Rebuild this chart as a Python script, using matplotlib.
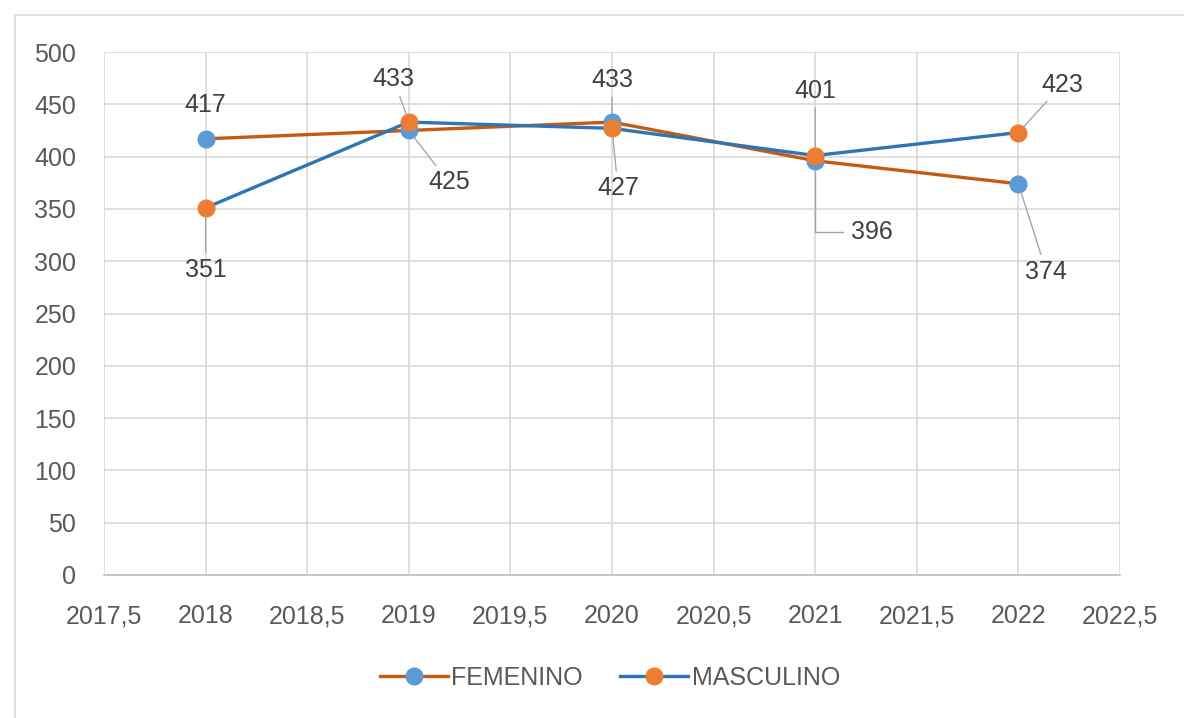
import matplotlib.pyplot as plt
from matplotlib.patches import Rectangle
from matplotlib.ticker import FuncFormatter, MultipleLocator

plt.rcParams['font.family'] = ['Liberation Sans', 'DejaVu Sans']

years = [2018, 2019, 2020, 2021, 2022]
femenino = [417, 425, 433, 396, 374]
masculino = [351, 433, 427, 401, 423]

# label offsets in pixels (dx, dy) and whether a leader line is drawn
fem_offsets = [(0, 34, False), (40, -52, True), (0, 42, True), (57, -71, 'elbow'), (28, -88, True)]
mas_offsets = [(0, -62, True), (-15, 43, True), (6, -60, True), (0, 65, True), (44, 48, True)]

text_color = '#595959'
grid_color = '#D9D9D9'

fig = plt.figure(figsize=(11.84, 7.18), dpi=100)
ax = fig.add_axes([104 / 1184, 1 - 575 / 718, (1120 - 104) / 1184, (575 - 52) / 718])

ax.plot(years, femenino, color='#C55A11', lw=2.4, marker='o', markersize=12,
        markerfacecolor='#5B9BD5', markeredgecolor='#5B9BD5', label='FEMENINO', zorder=3)
ax.plot(years, masculino, color='#2E75B6', lw=2.4, marker='o', markersize=12,
        markerfacecolor='#ED7D31', markeredgecolor='#ED7D31', label='MASCULINO', zorder=4)


def add_labels(xs, ys, offsets):
    for x, y, (dx, dy, line) in zip(xs, ys, offsets):
        if line == 'elbow':
            props = dict(arrowstyle='-', color='#A6A6A6', lw=1, shrinkA=4, shrinkB=7,
                         relpos=(0, 0.5), connectionstyle='angle,angleA=0,angleB=90,rad=0')
        elif line:
            props = dict(arrowstyle='-', color='#A6A6A6', lw=1, shrinkA=2, shrinkB=6)
        else:
            props = None
        ax.annotate(str(y), (x, y), xytext=(dx, dy), textcoords='offset pixels',
                    ha='center', va='center', fontsize=18, color='#404040',
                    arrowprops=props, zorder=5)


add_labels(years, femenino, fem_offsets)
add_labels(years, masculino, mas_offsets)

ax.set_xlim(2017.5, 2022.5)
ax.set_ylim(0, 500)
ax.xaxis.set_major_locator(MultipleLocator(0.5))
ax.yaxis.set_major_locator(MultipleLocator(50))
ax.xaxis.set_major_formatter(FuncFormatter(lambda v, p: f'{v:g}'.replace('.', ',')))
ax.grid(True, color=grid_color, lw=1.2)
ax.set_axisbelow(True)
for side in ['top', 'right', 'left']:
    ax.spines[side].set_visible(False)
ax.spines['bottom'].set_color('#BFBFBF')
ax.spines['bottom'].set_linewidth(1.2)
ax.tick_params(length=0, labelsize=18, labelcolor=text_color)
ax.tick_params(axis='y', pad=20)
ax.tick_params(axis='x', pad=21)

fig.legend(loc='center', bbox_to_anchor=(610 / 1184, 1 - 678 / 718), ncol=2, frameon=False,
           fontsize=18, handlelength=2.7, columnspacing=1.5, handletextpad=0.15,
           labelcolor=text_color)

fig.add_artist(Rectangle((15 / 1184, -0.1), 1.2, 1 - 15 / 718 + 0.1, transform=fig.transFigure,
                         fill=False, edgecolor='#D9D9D9', lw=1.2))

fig.savefig('out.png', dpi=100)
